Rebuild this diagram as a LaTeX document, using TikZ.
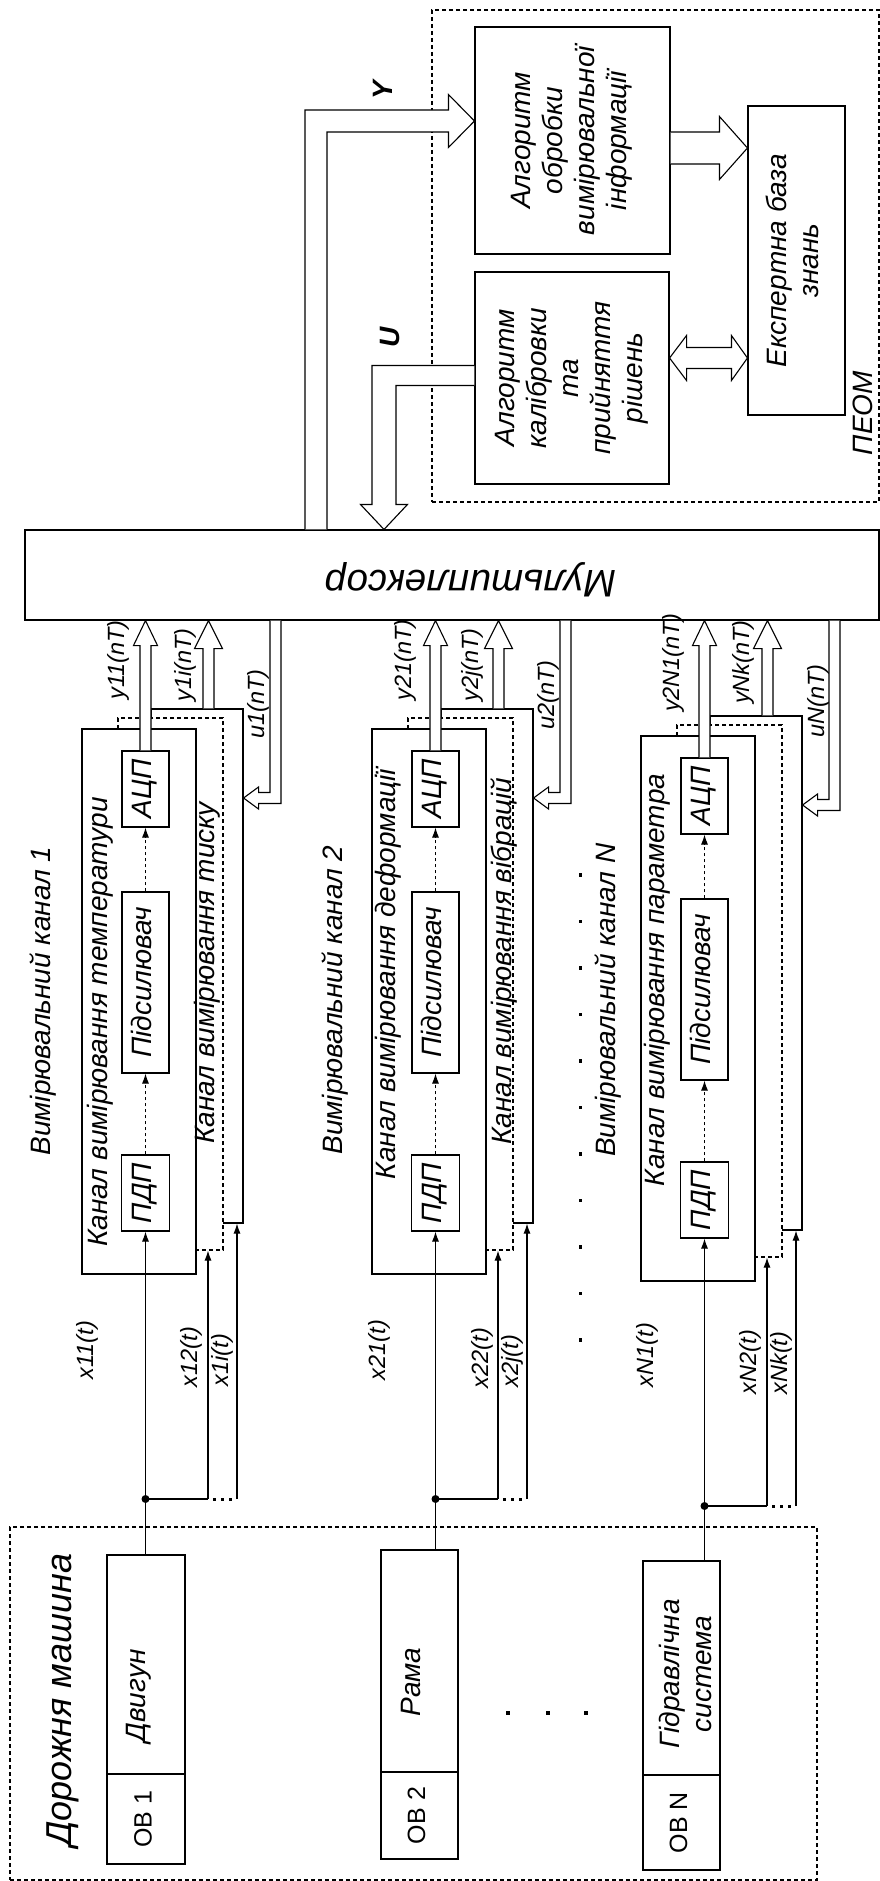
\documentclass[tikz,border=0pt]{standalone}
\usepackage{fontspec}
\setmainfont{Liberation Sans}
\usepackage{graphicx}
\usetikzlibrary{arrows.meta,calc}

\newcommand{\vt}[1]{\rotatebox{90}{\begin{tabular}{@{}c@{}}#1\end{tabular}}}
% hollow arrows: start, tip, shaft half width, head half width, head length
\newcommand{\HUp}[5]{\draw[fill=white] ($#1+(-#3,0)$) -- ($#2+(-#3,#5)$) -- ($#2+(-#4,#5)$) -- #2 -- ($#2+(#4,#5)$) -- ($#2+(#3,#5)$) -- ($#1+(#3,0)$);}
\newcommand{\HRight}[5]{\draw[fill=white] ($#1+(0,-#3)$) -- ($#2+(-#5,-#3)$) -- ($#2+(-#5,-#4)$) -- #2 -- ($#2+(-#5,#4)$) -- ($#2+(-#5,#3)$) -- ($#1+(0,#3)$);}

\tikzset{
  wh/.style 2 args={minimum width=#1pt, minimum height=#2pt},
  box/.style={draw, fill=white, inner sep=0pt, font=\fontsize{28}{32}\selectfont\itshape},
  dbox/.style={draw, fill=white, inner sep=0pt, dash pattern=on 4pt off 3pt},
  txt/.style={rotate=90, inner sep=0pt, align=center, font=\fontsize{28}{32}\selectfont\itshape},
  lbl/.style={rotate=90, inner sep=0pt, font=\fontsize{23.5}{26}\selectfont\itshape},
  sig/.style={-{Latex[length=10pt,width=7pt]}},
  pts/.style={line width=3pt, dash pattern=on 3pt off 5pt},
}

\begin{document}
\begin{tikzpicture}[x=1pt, y=-1pt, line width=1.1pt]
\useasboundingbox (0,0) rectangle (880,1881);

\node[dbox, wh={447}{492}] (peom) at (655.5,256) {};
\node[dbox, wh={807}{353}] (dm) at (413.5,1703.5) {};
\node[draw, inner sep=0pt, wh={854}{90}] (mux) at (452,575) {};

\node[box, wh={195}{227}] (obr) at (572.5,140.5) {\vt{Алгоритм\\обробки\\вимірювальної\\інформації}};
\node[box, wh={194}{212}] (kal) at (572,378) {\vt{Алгоритм\\калібровки\\та\\прийняття\\рішень}};
\node[box, wh={97}{309}] (eks) at (796.5,260.5) {\vt{Експертна база\\знань}};

\node[box, wh={78}{219}] (ob1) at (146,1664.5) {};
\node[box, wh={78}{90}, font=\fontsize{25}{28}\selectfont] (obl1) at (146,1819) {\vt{ОВ 1}};
\node[box, wh={77}{222}] (ob2) at (419.5,1661) {};
\node[box, wh={77}{87}, font=\fontsize{25}{28}\selectfont] (obl2) at (419.5,1815.5) {\vt{ОВ 2}};
\node[box, wh={77}{214}] (obN) at (681.5,1668) {};
\node[box, wh={77}{95}, font=\fontsize{25}{28}\selectfont] (oblN) at (681.5,1822.5) {\vt{ОВ N}};

\foreach \i/\dx/\dy in {1/0/0, 2/290/0, N/559/7} {
  \node[box, wh={92}{514}] (b\i) at (197+\dx, 966+\dy) {};
  \node[dbox, wh={105}{532}] (d\i) at (170.5+\dx, 984+\dy) {};
  \node[box, wh={114}{545}] (f\i) at (139+\dx, 1001.5+\dy) {};
  \node[box, wh={47}{76}] (a\i) at (145.5+\dx, 789+\dy) {\vt{АЦП}};
  \node[box, wh={47}{181}] (p\i) at (145.5+\dx, 982.5+\dy) {\vt{Підсилювач}};
  \node[box, wh={48}{76}] (s\i) at (145.5+\dx, 1193+\dy) {\vt{ПДП}};
  \coordinate (yi\i) at (208.5+\dx, 660);
  \coordinate (u\i) at (275.5+\dx, 798+\dy);
  \HUp{(a\i.north)}{(a\i.north |- mux.south)}{5.5}{12}{25}
  \HUp{(yi\i |- b\i.north)}{(yi\i |- mux.south)}{5.5}{14}{28}
  \draw[fill=white] ($(u\i |- mux.south)+(5.5,0)$) -- ($(u\i)+(5.5,5.5)$) -- ($(b\i.east |- u\i)+(15,5.5)$)
    -- ($(b\i.east |- u\i)+(15,11)$) -- (b\i.east |- u\i) -- ($(b\i.east |- u\i)+(15,-11)$)
    -- ($(b\i.east |- u\i)+(15,-5.5)$) -- ($(u\i)+(-5.5,-5.5)$) -- ($(u\i |- mux.south)+(-5.5,0)$);
  \coordinate (j\i) at (145.5+\dx, 1499+\dy);
  \coordinate (k\i) at (208+\dx, 1499+\dy);
  \coordinate (m\i) at (237+\dx, 1499+\dy);
  \draw[sig, dash pattern=on 3pt off 3pt] (s\i.north) -- (p\i.south);
  \draw[sig, dash pattern=on 3pt off 3pt] (p\i.north) -- (a\i.south);
  \draw (ob\i.north -| j\i) -- (j\i) -- (k\i);
  \draw[sig] (j\i) -- (s\i.south);
  \draw[sig] (k\i) -- (k\i |- d\i.south);
  \draw[sig] (m\i) -- (m\i |- b\i.south);
  \draw[pts] (213+\dx,1499+\dy) -- (232+\dx,1499+\dy);
  \fill (j\i) circle (4pt);
}

\coordinate (Yc) at (316,121);
\coordinate (Uc) at (384,375.5);
\coordinate (Ec) at (709,148);
\coordinate (Dc) at (708,358);
\draw[fill=white] ($(Yc |- mux.north)+(-11,0)$) -- ($(Yc)+(-11,-11)$) -- ($(obr.west |- Yc)+(-26,-11)$)
  -- ($(obr.west |- Yc)+(-26,-26.5)$) -- (obr.west |- Yc) -- ($(obr.west |- Yc)+(-26,26.5)$)
  -- ($(obr.west |- Yc)+(-26,11)$) -- ($(Yc)+(11,11)$) -- ($(Yc |- mux.north)+(11,0)$);
\draw[fill=white] ($(kal.west |- Uc)+(0,-10)$) -- ($(Uc)+(-12,-10)$) -- ($(Uc |- mux.north)+(-12,-25)$)
  -- ($(Uc |- mux.north)+(-23.5,-25)$) -- (Uc |- mux.north) -- ($(Uc |- mux.north)+(23.5,-25)$)
  -- ($(Uc |- mux.north)+(12,-25)$) -- ($(Uc)+(12,10)$) -- ($(kal.west |- Uc)+(0,10)$);
\HRight{(obr.east |- Ec)}{(eks.west |- Ec)}{16}{31.5}{28}
\draw[fill=white] (kal.east |- Dc) -- ($(kal.east |- Dc)+(17,-22.5)$) -- ($(kal.east |- Dc)+(17,-10.5)$)
  -- ($(eks.west |- Dc)+(-16,-10.5)$) -- ($(eks.west |- Dc)+(-16,-22.5)$) -- (eks.west |- Dc)
  -- ($(eks.west |- Dc)+(-16,22.5)$) -- ($(eks.west |- Dc)+(-16,10.5)$) -- ($(kal.east |- Dc)+(17,10.5)$)
  -- ($(kal.east |- Dc)+(17,22.5)$) -- cycle;

\node[rotate=180, inner sep=0pt, font=\fontsize{38.5}{42}\selectfont\itshape] (muxt) at (471,580) {Мультиплексор};
\node[txt, font=\fontsize{36}{40}\selectfont\itshape] (dmt) at (63,1700) {Дорожня машина};
\node[txt] (pt) at (863,413) {ПЕОМ};
\node[txt, font=\fontsize{28}{32}\selectfont\bfseries\itshape] (Yt) at (383,90) {Y};
\node[txt, font=\fontsize{28}{32}\selectfont\bfseries\itshape] (Ut) at (390,337) {U};

\node[txt] (n1) at (139,1696) {Двигун};
\node[txt] (n2) at (411,1682) {Рама};
\node[txt] (nN) at (685.5,1674) {Гідравлічна\\система};

\node[txt] (v1) at (43,1001) {Вимірювальний канал 1};
\node[txt] (v2) at (335,1000) {Вимірювальний канал 2};
\node[txt] (vN) at (608,1000) {Вимірювальний канал N};
\node[txt] (t1) at (100,1022) {Канал вимірювання температури};
\node[txt] (t2) at (388,974) {Канал вимірювання деформації};
\node[txt] (tN) at (657,980) {Канал вимірювання параметра};
\node[txt] (q1) at (207,973) {Канал вимірювання тиску};
\node[txt] (q2) at (504,961) {Канал вимірювання вібрацій};

\node[lbl] (ly11) at (118,660) {y11(nT)};
\node[lbl] (ly1i) at (185,665) {y1i(nT)};
\node[lbl] (lu1) at (258,704) {u1(nT)};
\node[lbl] (ly21) at (405,660) {y21(nT)};
\node[lbl] (ly2j) at (472,665) {y2j(nT)};
\node[lbl] (lu2) at (548,695) {u2(nT)};
\node[lbl] (lyN1) at (673,663) {y2N1(nT)};
\node[lbl] (lyNk) at (743,662) {yNk(nT)};
\node[lbl] (luN) at (818,701) {uN(nT)};

\node[lbl] (lx11) at (87,1350) {x11(t)};
\node[lbl] (lx12) at (191,1357) {x12(t)};
\node[lbl] (lx1i) at (222,1360) {x1i(t)};
\node[lbl] (lx21) at (379,1350) {x21(t)};
\node[lbl] (lx22) at (482,1358) {x22(t)};
\node[lbl] (lx2j) at (512,1361) {x2j(t)};
\node[lbl] (lxN1) at (647,1355) {xN1(t)};
\node[lbl] (lxN2) at (750,1362) {xN2(t)};
\node[lbl] (lxNk) at (781,1363) {xNk(t)};

\foreach \k in {0,...,10}
  \fill (578.5,{873+46.5*\k}) rectangle +(3.5,3.5);
\foreach \p in {508,548,586}
  \fill (\p-1.75,1711) rectangle +(3.5,3.5);
\end{tikzpicture}
\end{document}
